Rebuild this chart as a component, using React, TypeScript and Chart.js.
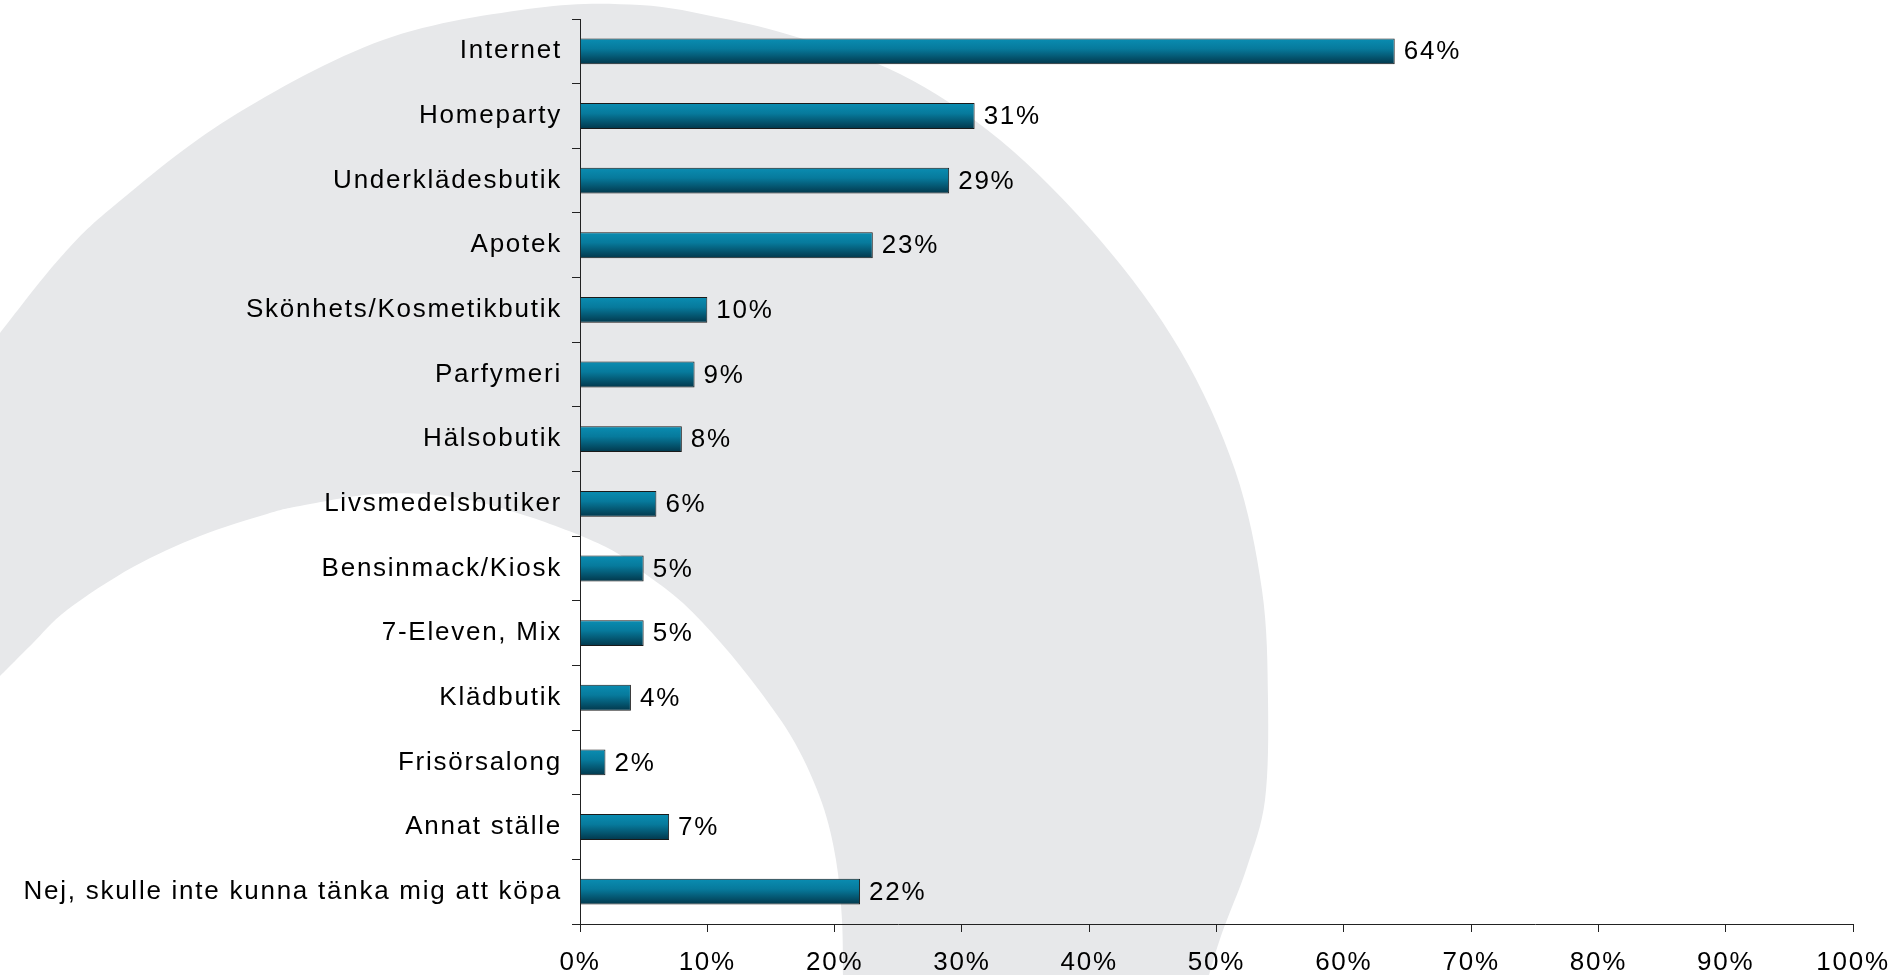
import React, { useEffect, useRef } from 'react';
import { Chart, registerables } from 'chart.js';

Chart.register(...registerables);

// ---- data ----
const categories: string[] = [
  'Internet',
  'Homeparty',
  'Underklädesbutik',
  'Apotek',
  'Skönhets/Kosmetikbutik',
  'Parfymeri',
  'Hälsobutik',
  'Livsmedelsbutiker',
  'Bensinmack/Kiosk',
  '7-Eleven, Mix',
  'Klädbutik',
  'Frisörsalong',
  'Annat ställe',
  'Nej, skulle inte kunna tänka mig att köpa',
];
const values: number[] = [64, 31, 29, 23, 10, 9, 8, 6, 5, 5, 4, 2, 7, 22];
const xTickValues: number[] = [0, 10, 20, 30, 40, 50, 60, 70, 80, 90, 100];
const xTickLabels: string[] = ['0%', '10%', '20%', '30%', '40%', '50%', '60%', '70%', '80%', '90%', '100%'];

// ---- styling ----
const FONT_FAMILY = "'Liberation Sans', Arial, sans-serif";
const FONT_SIZE = 26;
const LETTER_SPACING = '1.75px';
const AXIS_COLOR = '#222222';
const TEXT_COLOR = '#000000';
const BG_GREY = '#e7e8ea';

// decorative background shape (outer edge, left -> right)
const outerEdge: [number, number][] = [
  [0, 333], [60, 258], [115, 205], [230, 118], [383, 40], [536, 8], [640, 5], [721, 18],
  [800, 38], [900, 74], [1000, 140], [1100, 240], [1180, 350], [1235, 470], [1262, 590],
  [1268, 700], [1265, 800], [1247, 867], [1222, 933], [1209, 975],
];
// inner edge (right -> left)
const innerEdge: [number, number][] = [
  [843, 975], [842, 920], [836, 860], [822, 803], [795, 743], [759, 690], [721, 643],
  [683, 603], [644, 573], [606, 547], [530, 517], [453, 497], [376, 494], [300, 506],
  [267, 514], [200, 536], [133, 567], [67, 610], [33, 643], [13, 663], [0, 676],
];

function smoothPath(ctx: CanvasRenderingContext2D, pts: [number, number][], moveFirst: boolean) {
  if (moveFirst) ctx.moveTo(pts[0][0], pts[0][1]);
  else ctx.lineTo(pts[0][0], pts[0][1]);
  for (let i = 0; i < pts.length - 1; i++) {
    const p0 = pts[i - 1] || pts[i];
    const p1 = pts[i];
    const p2 = pts[i + 1];
    const p3 = pts[i + 2] || p2;
    const c1x = p1[0] + (p2[0] - p0[0]) / 6;
    const c1y = p1[1] + (p2[1] - p0[1]) / 6;
    const c2x = p2[0] - (p3[0] - p1[0]) / 6;
    const c2y = p2[1] - (p3[1] - p1[1]) / 6;
    ctx.bezierCurveTo(c1x, c1y, c2x, c2y, p2[0], p2[1]);
  }
}

const backgroundPlugin = {
  id: 'bgShape',
  beforeDraw(chart: any) {
    const ctx: CanvasRenderingContext2D = chart.ctx;
    ctx.save();
    ctx.fillStyle = '#ffffff';
    ctx.fillRect(0, 0, chart.width, chart.height);
    ctx.beginPath();
    smoothPath(ctx, outerEdge, true);
    smoothPath(ctx, innerEdge, false);
    ctx.closePath();
    ctx.fillStyle = BG_GREY;
    ctx.fill();
    ctx.restore();
    (ctx as any).letterSpacing = LETTER_SPACING;
  },
};

const spacingPlugin = {
  id: 'letterSpacing',
  beforeLayout(chart: any) {
    (chart.ctx as any).letterSpacing = LETTER_SPACING;
  },
};

const valueLabelPlugin = {
  id: 'valueLabels',
  afterDatasetsDraw(chart: any) {
    const ctx: CanvasRenderingContext2D = chart.ctx;
    const meta = chart.getDatasetMeta(0);
    ctx.save();
    (ctx as any).letterSpacing = LETTER_SPACING;
    ctx.font = `${FONT_SIZE}px ${FONT_FAMILY}`;
    ctx.fillStyle = TEXT_COLOR;
    ctx.textAlign = 'left';
    ctx.textBaseline = 'middle';
    meta.data.forEach((el: any, i: number) => {
      ctx.fillText(`${values[i]}%`, el.x + 9, el.y + 1);
    });
    ctx.restore();
  },
};

export default function App() {
  const canvasRef = useRef<HTMLCanvasElement | null>(null);

  useEffect(() => {
    if (!canvasRef.current) return;
    const chart = new Chart(canvasRef.current, {
      type: 'bar',
      data: {
        labels: categories,
        datasets: [
          {
            data: values,
            backgroundColor: (c: any) => {
              const ch = c.chart;
              const ys = ch.scales && ch.scales.y;
              if (c.type !== 'data' || !ys || ys.bottom === undefined) return '#06789a';
              const cy = ys.getPixelForValue(c.dataIndex);
              const band = (ys.bottom - ys.top) / categories.length;
              const half = band * 0.2;
              const g = ch.ctx.createLinearGradient(0, cy - half, 0, cy + half);
              g.addColorStop(0, '#0a8db2');
              g.addColorStop(0.4, '#077a9c');
              g.addColorStop(1, '#02374b');
              return g;
            },
            borderColor: '#1a1a1a',
            borderWidth: 1,
            barPercentage: 0.4,
            categoryPercentage: 1.0,
          },
        ],
      },
      options: {
        indexAxis: 'y',
        responsive: false,
        animation: false,
        devicePixelRatio: 1,
        events: [],
        layout: { padding: { top: 19, right: 43, bottom: 0, left: 0 } },
        plugins: {
          legend: { display: false },
          tooltip: { enabled: false },
          title: { display: false },
        },
        scales: {
          x: {
            type: 'linear',
            min: 0,
            max: 100,
            afterBuildTicks: (scale: any) => {
              scale.ticks = xTickValues.map((v) => ({ value: v }));
            },
            afterFit: (scale: any) => {
              scale.height = 51;
              scale.paddingLeft = 0;
              scale.paddingRight = 0;
            },
            ticks: {
              callback: (_v: any, idx: number) => xTickLabels[idx],
              color: TEXT_COLOR,
              font: { family: FONT_FAMILY, size: FONT_SIZE },
              padding: 15,
              maxRotation: 0,
              autoSkip: false,
            },
            grid: {
              drawOnChartArea: false,
              drawTicks: true,
              tickLength: 8,
              color: AXIS_COLOR,
              lineWidth: 1,
            },
            border: { display: true, color: AXIS_COLOR, width: 1 },
          },
          y: {
            type: 'category',
            afterFit: (scale: any) => {
              scale.width = 580;
              scale.paddingTop = 0;
              scale.paddingBottom = 0;
            },
            ticks: {
              color: TEXT_COLOR,
              font: { family: FONT_FAMILY, size: FONT_SIZE },
              padding: 10,
              autoSkip: false,
            },
            grid: {
              drawOnChartArea: false,
              drawTicks: true,
              tickLength: 8,
              offset: true,
              color: AXIS_COLOR,
              lineWidth: 1,
            },
            border: { display: true, color: AXIS_COLOR, width: 1 },
          },
        },
      },
      plugins: [spacingPlugin, backgroundPlugin, valueLabelPlugin],
    } as any);
    return () => chart.destroy();
  }, []);

  return (
    <div style={{ position: 'fixed', left: 0, top: 0, width: 1896, height: 975, background: '#fff' }}>
      <canvas ref={canvasRef} width={1896} height={975} style={{ display: 'block', width: 1896, height: 975 }} />
    </div>
  );
}
